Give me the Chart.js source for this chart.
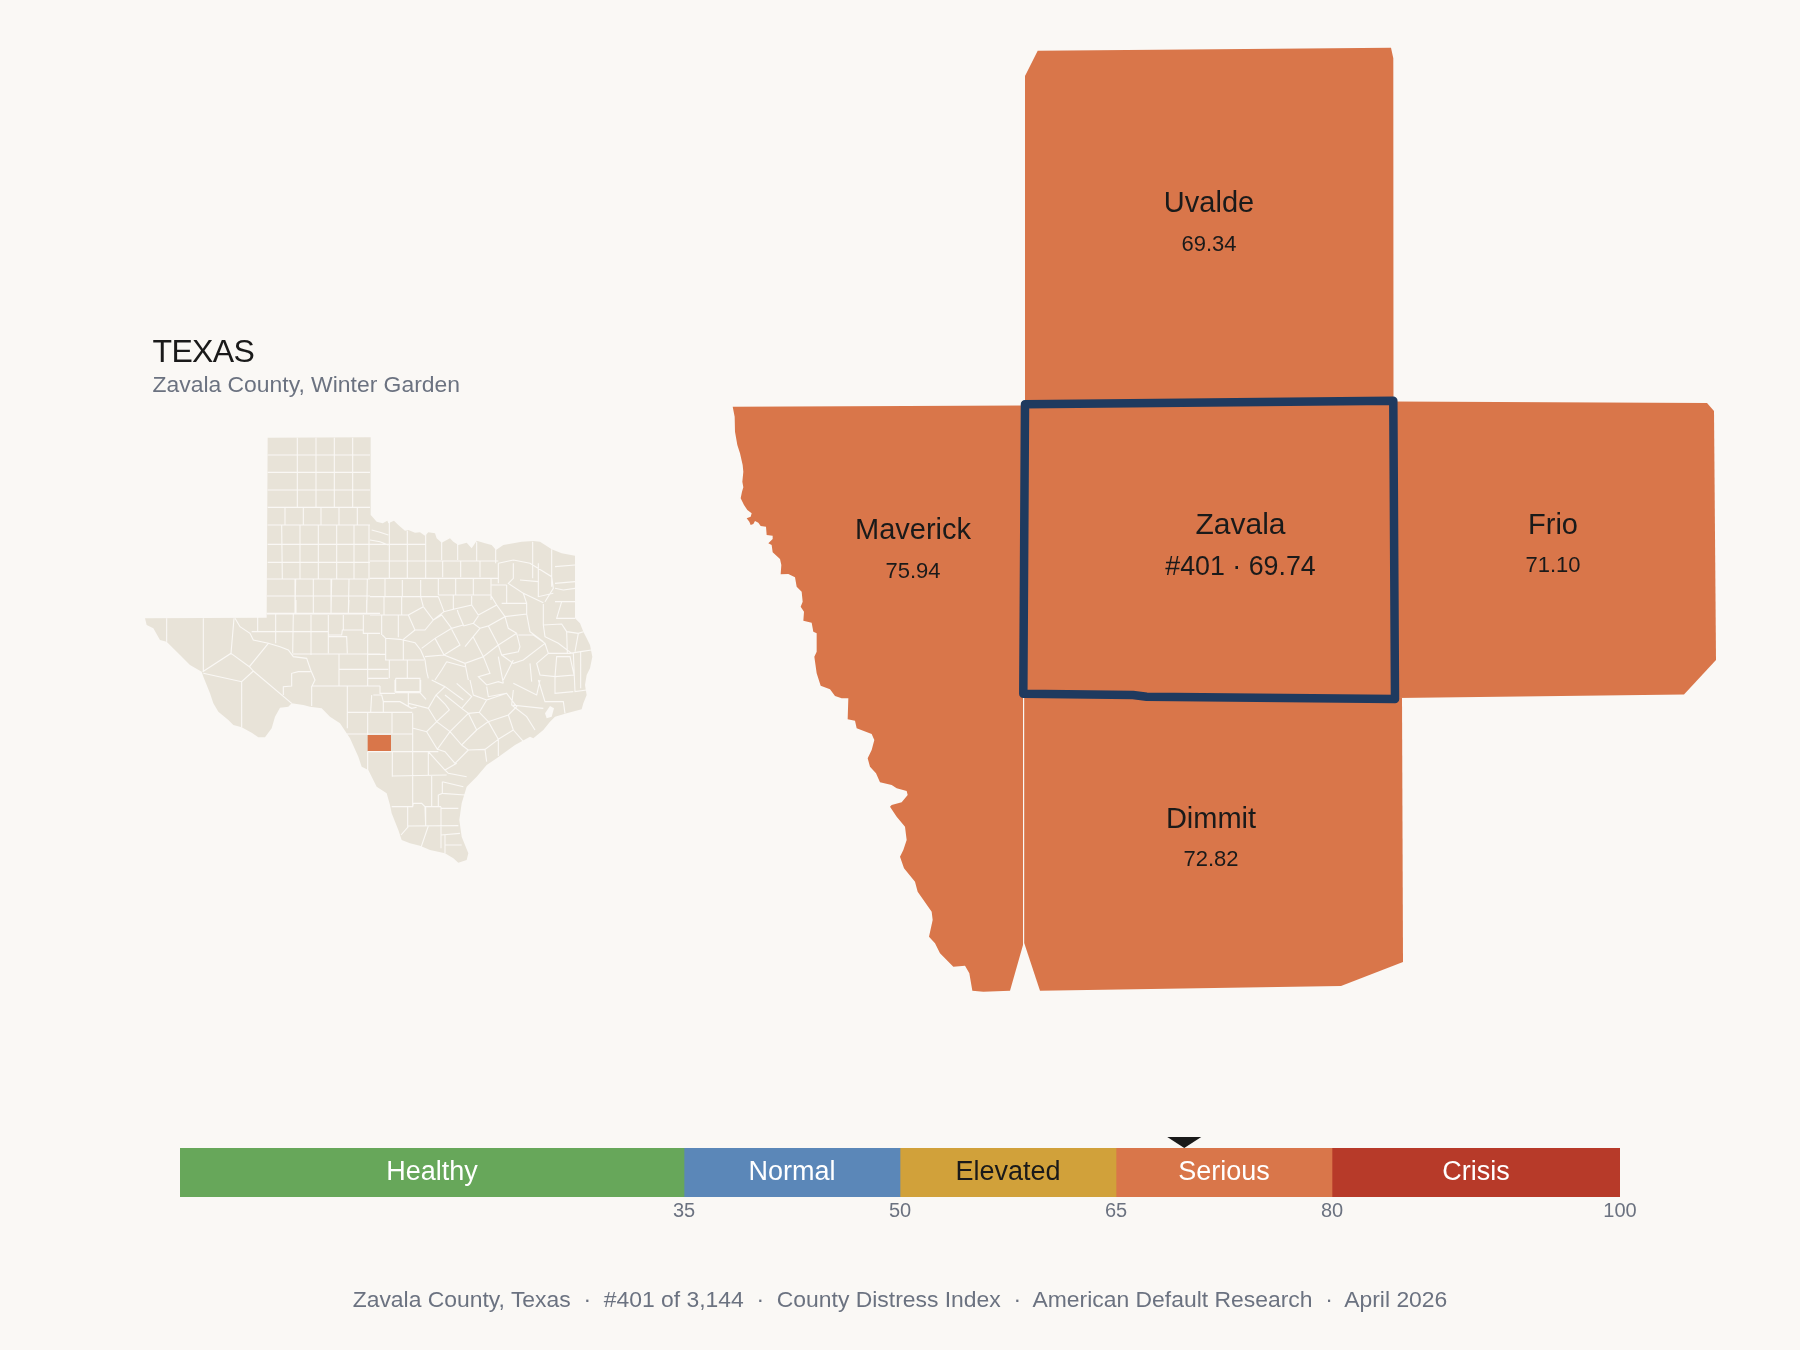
<!DOCTYPE html>
<html>
<head>
<meta charset="utf-8">
<title>Zavala County, Texas</title>
<script src="https://cdn.jsdelivr.net/npm/chart.js@4"></script>
<style>
html,body{margin:0;padding:0;background:#faf8f5;width:1800px;height:1350px;overflow:hidden;font-family:"Liberation Sans",Arial,sans-serif}
canvas{position:absolute}
.t{position:absolute;line-height:1;white-space:pre}
</style>
</head>
<body>
<canvas id="map" width="1800" height="1350" style="left:0;top:0;width:1800px;height:1350px"></canvas>
<canvas id="scale" width="1500" height="110" style="left:150px;top:1120px;width:1500px;height:110px"></canvas>
<div class="t" style="left:152.5px;top:334.5px;font-size:32px;color:#1a1a1a;letter-spacing:-.65px">TEXAS</div>
<div class="t" style="left:152.5px;top:373px;font-size:22.9px;color:#6b7280">Zavala County, Winter Garden</div>
<div class="t" style="left:0;width:1800px;text-align:center;top:1288px;font-size:22.9px;color:#6b7280">Zavala County, Texas  ·  #401 of 3,144  ·  County Distress Index  ·  American Default Research  ·  April 2026</div>
<script>
// ---- scale bar data
const bandNames  = ['Healthy','Normal','Elevated','Serious','Crisis'];
const bandWidths = [35,15,15,15,20];
const bandColors = ['#67a75a','#5b87b8','#d1a13a','#d9764a','#b73a29'];
const bandText   = ['#ffffff','#ffffff','#1a1a1a','#ffffff','#ffffff'];
const bandTicks  = [35,50,65,80,100];
const markerValue = 69.74;

// ---- neighbour labels
const countyNames  = ['Uvalde','Maverick','Zavala','Frio','Dimmit'];
const countyValues = ['69.34','75.94','#401 · 69.74','71.10','72.82'];
const labelX = [1209,913,1240.5,1553,1211];
const labelY = [204,531.3,525.3,525.8,819.8];

// ---- neighbour county shapes (map units)
const uvaldeX = [1037.7,1216.7,1391,1393.3,1393.5,1025,1025];
const uvaldeY = [50.7,49.3,47.7,58.3,402,405,76];
const frioX = [1393,1707,1714,1716,1684,1397];
const frioY = [401.5,403,411,660,694.5,698];
const dimmitX = [1024.2,1402,1403,1341,1040,1024.2];
const dimmitY = [694.5,698,962,986,990.7,943];
const zavalaX = [1025,1393.3,1395,1146.7,1133,1023.3];
const zavalaY = [404.3,400.7,699,696.7,695,693.7];
const maverickTop = [[1023,405.5],[732.7,406.7]];
const riverUpper = [44,80,45,125,52,165,60,190,68,225,70,245,67,275,70,292,66,305,62,325,72,345,82,360,95,370,92,380,80,385,88,395,92,405,100,402,105,393,115,398,122,408,138,410,140,435,158,437,158,447,145,460,155,465,158,487,180,507,184,525,182,553,205,552,225,562,230,590,245,605,248,635,242,650,252,665,250,692,275,698,280,725,290,730,290,785,283,800,290,850,302,887];
const riverLower = [30,28,45,48,65,55,85,55,83,118,105,122,110,145,155,162,163,180,155,210,143,235,150,260,168,280,180,307,215,315,230,325,260,333,263,345,245,367,215,375,210,380,230,410,255,440,260,480,250,510,240,530,252,565,285,605,293,635,335,695,338,720,327,770,345,790,360,820,400,860,435,857,448,880,457,932,490,935,570,932,609,795];

const txRedRiver = [2,-188,2,45,5,48,20,65,38,70,52,62,55,70,72,62,85,75,105,92,115,90,135,98,150,97,165,107,175,97,195,100,200,115,215,128,240,115,250,125,265,135,290,128,305,145,320,122,345,130,365,135,378,150,400,135,430,130,455,125,490,123,510,125,545,148,575,160,615,167,615,355,630,370,640,395,650,415,660,435,667,470,660,505,650,525,645,555,650,585,640,610,635,628,590,640,555,650,540,665,520,690,490,715];
const txCoast = [600,170,555,195,500,235,470,255,440,290,410,320,395,370,388,420,395,470,415,520,410,540,385,548,370,535,345,520,300,510,270,497,240,490,215,480,205,450,185,400,180,375,170,340,140,320,115,270,95,260,85,230,60,175,30,130,0,110];
const txRioGrande = [545,325,510,320,490,315,455,310,445,320,420,323,405,350,395,385,375,412,355,412,335,398,305,382,280,375,265,360,235,335,220,310,210,280,190,230,185,215,150,195,120,165,95,140,80,125,60,120,40,85,20,75,15,55,380,53];
const txBay = [525,640,540,618,552,625,545,650,530,655];
const txZavala = [113,165,183,165,183,213,113,213];

// ---- Texas inset: county boundary polylines, per crop
const linesNorth = [
 [413,105,720,105],[413,157,720,157],[413,210,720,210],[413,262,720,262],[413,315,720,315],[413,373,720,373],[413,427,720,427],[411,477,720,477],[411,528,720,528],[411,582,720,582],
 [502,53,502,262],[558,53,558,262],[613,53,613,262],[668,53,668,262],
 [465,262,465,315],[520,262,520,315],[573,262,573,315],[627,262,627,315],[682,262,682,315],
 [455,315,457,477],[510,315,510,477],[565,315,565,477],[620,315,620,477],[672,315,672,477],[717,315,717,477],
 [497,477,495,582],[550,477,550,582],[605,477,603,582],[657,477,655,582],[712,477,710,582]
];
const linesWest = [
 [80,55,80,125],[190,55,190,215],[282,55,273,160,188,215],[273,160,328,200,385,130],[190,220,305,245,340,213,455,310],[328,200,340,213],[305,245,305,382],
 [285,55,300,80,330,100,340,120,385,130,420,140,445,150,460,170,500,175,512,210,525,240,515,260],
 [353,40,353,95],[407,40,407,130],[460,40,458,160],[513,45,513,165],[565,45,565,160],[335,95,565,95],
 [468,0,468,40],[520,0,520,40],[573,0,573,40],[627,0,625,40],[680,0,680,40],[380,40,720,40],
 [565,110,620,110,622,160],[565,105,605,105,607,90,670,90],[610,45,610,90],[670,45,670,100,720,100],
 [458,162,720,162],[597,162,597,258],[597,208,720,208],[515,258,720,258],[515,258,515,318],[622,258,622,385],
 [430,285,430,260,455,258,455,220,475,215,512,215]
];
const linesCentral = [
 [215,285,212,335],[220,285,245,285,250,305,250,335],[240,258,240,280,285,280],[250,305,300,305,335,325,350,322],[325,280,325,318],[360,278,378,298],
 [287,235,287,278,360,278,360,235,287,235],[268,180,268,235],[322,180,322,235],[255,180,372,180],[257,115,257,180],[310,120,310,180],[203,100,203,258],
 [247,105,257,115,300,118,345,128,362,150,375,180,380,215,385,235],[203,208,265,208],[203,163,257,163],[265,235,203,235]
];
const linesEast = [
 [5,90,30,97,55,105],[0,120,30,125,55,135],[58,65,58,235],[112,92,112,235],[167,98,167,235],[215,125,215,180],[263,130,263,180],[320,125,320,182],[377,148,377,190],
 [0,133,167,133],[0,183,385,183],[385,190,430,180],[218,183,218,232],[272,183,272,232],[330,183,330,232],[385,190,385,250],
 [0,235,365,235],[365,235,385,235],[205,235,205,285],[257,235,257,285],[310,235,310,285],[363,235,363,300],[45,235,45,290],[97,240,97,290],[152,240,152,290],
 [0,290,205,290],[205,285,363,285],[42,290,42,345],[95,290,95,345],[0,345,115,345],[35,345,35,405],[85,345,85,412],[115,345,160,320,190,360],[160,320,152,290],
 [115,345,135,390,100,418],[135,390,165,390,190,360],
 [205,290,222,335,250,328,250,285],[222,335,190,360],[190,360,215,345,245,385,280,375,265,340,262,330],[245,385,195,415,222,465,270,435,245,388],[195,415,155,445],
 [250,328,305,315,305,288],[305,315,325,345,380,315,362,285],[380,315,405,350,470,342,470,310,395,310],[280,378,310,370,330,385,285,440],[325,348,310,370],[330,385,355,378,385,435,340,470,310,412],[355,378,405,350,415,385,440,400],[440,400,450,440,445,455,395,465,385,435,440,400],
 [445,405,490,405,525,430,535,460,600,460,632,455,665,450],[525,430,460,480,430,490,395,465],[470,342,480,395,520,425],[520,312,520,375,575,372,590,395,625,400,640,395],[520,375,525,410,565,430,605,460],[590,395,592,460],[625,400,615,455],[632,455,632,565],[610,460,615,575,650,570],
 [535,460,500,490,510,525,555,530,560,470,600,470,612,525,555,530],[430,190,430,235,415,250,460,280,470,310],[460,280,520,308],[430,180,480,190,545,230,550,265,525,305],[488,125,488,235],[545,148,545,260],[555,200,615,195],[505,190,505,290,550,280],[450,240,505,245],[555,250,615,245],[555,265,580,270,615,265],[555,305,615,305],[575,305,560,355,615,355],[410,255,410,310],[365,255,410,255],
 [222,465,285,490,340,470,360,520,325,530,350,555,385,545,400,550],[285,490,295,540],[165,470,222,465],[230,485,215,510,195,540],[230,485,285,500],[385,470,400,550],[400,540,430,480],[480,490,485,545],
 [505,540,525,605,580,605,585,640],[555,530,555,580,610,575],[430,550,500,585,510,540],[430,570,425,615,520,625],[425,615,470,650,495,690]
];
const linesSouth = [
 [113,97,113,165],[186,97,186,160],[52,97,247,97],[50,162,247,162],[113,215,325,215],[113,215,113,270],[187,215,187,290],[248,100,248,380],[295,215,295,285],[187,288,350,285],[305,288,305,380],[185,380,248,380,250,370,275,370,285,380,333,380],[233,380,233,440],[285,380,287,438],[333,380,333,505],[333,385,385,385],[233,438,385,437],[295,438,272,505],[345,465,345,520],[333,465,390,460],[345,495,395,495],[235,440,213,465],
 [337,305,400,320],[337,305,337,340,325,345,325,380],[337,340,405,345],[295,215,345,270,355,280,410,290],
 [195,0,195,35,270,35,272,0],[235,35,235,70,295,85,318,45,345,20,305,0],[345,20,400,60],[345,45,395,85,425,50,380,10],
 [295,85,320,125,358,90,345,72,318,45],[250,145,290,155,320,125],[290,155,322,208,360,155,320,125],[360,155,415,100,395,85],
 [415,100,448,97,470,60,530,40,560,80,535,105,475,125,448,97],[415,100,440,150,475,125,505,178,550,150,535,105],[360,155,395,195,440,150],[322,208,345,215,375,250,415,210,395,195],[415,210,465,208,505,178],[505,178,505,228],[465,208,470,245],[380,250,345,270],[550,150,585,190],[470,20,475,50,530,40],[420,0,430,45,470,60]
];

const toMap = (ox,oy,flat) => { const p=[]; for(let i=0;i<flat.length;i+=2) p.push({x:ox+flat[i]/3,y:oy+flat[i+1]/3}); return p; };
const zip = (xs,ys) => xs.map((x,i)=>({x,y:ys[i]}));
const withGaps = (ox,oy,list) => list.flatMap(l => [...toMap(ox,oy,l),{x:null,y:null}]);

const maverick = [...maverickTop.map(([x,y])=>({x,y})),...toMap(720,390,riverUpper),...toMap(820,680,riverLower)];
const texas = [...toMap(130,420,[413,53]),...toMap(370,500,txRedRiver),...toMap(330,680,txCoast),...toMap(140,600,[570,350]),...toMap(140,600,txRioGrande)];
const countyLines = [...withGaps(130,420,linesNorth),...withGaps(140,600,linesWest),...withGaps(300,600,linesCentral),...withGaps(370,500,linesEast),...withGaps(330,680,linesSouth)];

const ORANGE='#d9764a', PAPER='#faf8f5', LAND='#e8e3d8', NAVY='#1f3a5f', INK='#1a1a1a', GREY='#6b7280';
const shape = (name,data,fillCol,order,extra={}) => ({label:name,data,polyFill:fillCol,order,showLine:true,pointRadius:0,borderWidth:0,borderColor:'transparent',tension:0,fill:false,clip:false,...extra});

const polyFill = {id:'polyFill',beforeDatasetDraw(chart,{index,meta}){
  const ds=chart.data.datasets[index]; if(!ds.polyFill) return;
  const c=chart.ctx; c.save(); c.beginPath();
  meta.data.forEach((pt,i)=> i? c.lineTo(pt.x,pt.y):c.moveTo(pt.x,pt.y));
  c.closePath(); c.fillStyle=ds.polyFill; c.fill(); c.restore();
}};
const countyLabels = {id:'countyLabels',afterDatasetsDraw(chart){
  const c=chart.ctx,sx=chart.scales.x,sy=chart.scales.y;
  c.save(); c.textAlign='center'; c.textBaseline='middle'; c.fillStyle=INK;
  countyNames.forEach((n,i)=>{
    const big=n==='Zavala', x=sx.getPixelForValue(labelX[i]), y=sy.getPixelForValue(labelY[i]);
    c.font=(big?30:29)+'px "Liberation Sans"'; c.fillText(n,x,y);
    c.font=(big?26.8:22)+'px "Liberation Sans"'; c.fillText(countyValues[i],x,y+(big?42:40.5));
  });
  c.restore();
}};

new Chart(document.getElementById('map'),{
  type:'scatter',
  data:{datasets:[
    shape('Zavala outline',zip(zavalaX,zavalaY),ORANGE,1,{borderColor:NAVY,borderWidth:8.5,borderJoinStyle:'round',borderCapStyle:'round',data:[...zip(zavalaX,zavalaY),{x:zavalaX[0],y:zavalaY[0]}]}),
    shape('Uvalde',zip(uvaldeX,uvaldeY),ORANGE,2),
    shape('Frio',zip(frioX,frioY),ORANGE,2),
    shape('Dimmit',zip(dimmitX,dimmitY),ORANGE,2),
    shape('Maverick',maverick,ORANGE,2),
    shape('Texas Zavala',toMap(330,680,txZavala),ORANGE,3),
    {label:'Texas counties',data:countyLines,showLine:true,pointRadius:0,borderWidth:1.1,borderColor:PAPER,tension:0,fill:false,clip:false,spanGaps:false,order:4},
    shape('Galveston Bay',toMap(370,500,txBay),PAPER,4),
    shape('Texas',texas,LAND,5)
  ]},
  options:{responsive:false,animation:false,events:[],
    layout:{padding:0},
    plugins:{legend:{display:false},tooltip:{enabled:false},title:{display:false}},
    scales:{x:{type:'linear',min:0,max:1800,display:false},y:{type:'linear',min:0,max:1350,reverse:true,display:false}}
  },
  plugins:[polyFill,countyLabels]
});

const bandLabels = {id:'bandLabels',afterDatasetsDraw(chart){
  const c=chart.ctx; c.save(); c.textAlign='center'; c.textBaseline='middle'; c.font='27px "Liberation Sans"';
  chart.data.datasets.forEach((d,i)=>{
    const el=chart.getDatasetMeta(i).data[0]; c.fillStyle=bandText[i];
    c.fillText(bandNames[i],(el.x+el.base)/2,el.y);
  });
  const x=chart.scales.x.getPixelForValue(markerValue), top=chart.chartArea.top;
  c.fillStyle=INK; c.beginPath(); c.moveTo(x-17,top-11); c.lineTo(x+17,top-11); c.lineTo(x,top); c.closePath(); c.fill();
  c.restore();
}};
new Chart(document.getElementById('scale'),{
  type:'bar',
  data:{labels:['Index'],datasets:bandNames.map((n,i)=>({label:n,data:[bandWidths[i]],backgroundColor:bandColors[i],borderWidth:0,barPercentage:1,categoryPercentage:1}))},
  options:{indexAxis:'y',responsive:false,animation:false,events:[],
    layout:{padding:{left:30,right:30,top:28,bottom:0}},
    plugins:{legend:{display:false},tooltip:{enabled:false}},
    scales:{
      y:{stacked:true,display:false},
      x:{stacked:true,min:0,max:100,
        afterBuildTicks(s){s.ticks=bandTicks.map(value=>({value}));},
        afterFit(s){s.height=33;},
        grid:{display:false,drawTicks:false},border:{display:false},
        ticks:{autoSkip:false,maxRotation:0,padding:2,color:GREY,font:{family:'"Liberation Sans"',size:20},callback:v=>String(v)}
      }
    }
  },
  plugins:[bandLabels]
});
</script>
</body>
</html>
